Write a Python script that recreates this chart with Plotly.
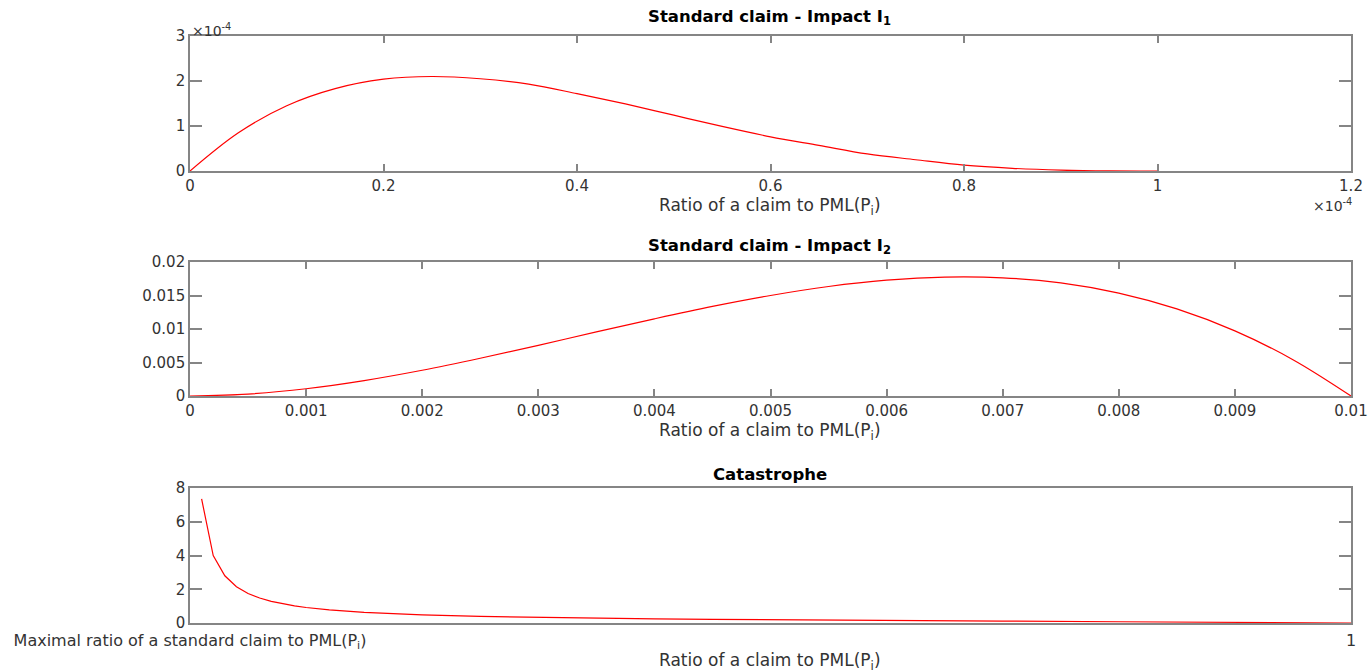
import plotly.graph_objects as go

# Panel 1: Standard claim - Impact I1 (values in absolute units)
x_i1 = [0.0, 0.05e-4, 0.10e-4, 0.15e-4, 0.20e-4, 0.25e-4, 0.30e-4, 0.35e-4, 0.40e-4, 0.45e-4,
        0.50e-4, 0.55e-4, 0.60e-4, 0.65e-4, 0.70e-4, 0.75e-4, 0.80e-4, 0.85e-4, 0.90e-4, 0.95e-4, 1.00e-4]
y_i1 = [0.0, 0.85e-4, 1.45e-4, 1.83e-4, 2.04e-4, 2.10e-4, 2.05e-4, 1.93e-4, 1.72e-4, 1.49e-4,
        1.24e-4, 0.99e-4, 0.76e-4, 0.57e-4, 0.38e-4, 0.25e-4, 0.13e-4, 0.06e-4, 0.02e-4, 0.002e-4, 0.0]

# Panel 2: Standard claim - Impact I2
x_i2 = [0.0, 0.0005, 0.001, 0.0015, 0.002, 0.0025, 0.003, 0.0035, 0.004, 0.0045, 0.005,
        0.0055, 0.006, 0.0065, 0.007, 0.0075, 0.008, 0.0085, 0.009, 0.0095, 0.01]
y_i2 = [0.0, 0.000285, 0.00108, 0.0023, 0.00384, 0.00563, 0.00756, 0.00956, 0.01152, 0.01337, 0.015,
        0.01634, 0.01728, 0.01775, 0.01764, 0.01688, 0.01536, 0.013, 0.00972, 0.00542, 0.0]

# Panel 3: Catastrophe
x_cat = [0.01, 0.02, 0.03, 0.04, 0.05, 0.06, 0.07, 0.08, 0.09, 0.10, 0.12, 0.15, 0.20, 0.25,
         0.30, 0.35, 0.40, 0.45, 0.50, 0.60, 0.70, 0.80, 0.90, 1.00]
y_cat = [7.35, 4.0, 2.8, 2.15, 1.75, 1.48, 1.28, 1.13, 1.01, 0.92, 0.78, 0.63, 0.48, 0.39,
         0.33, 0.28, 0.25, 0.22, 0.19, 0.15, 0.11, 0.075, 0.04, 0.0]

# Tick labels
i1_xticks = [0, 0.2e-4, 0.4e-4, 0.6e-4, 0.8e-4, 1.0e-4, 1.2e-4]
i1_xtext = ["0", "0.2", "0.4", "0.6", "0.8", "1", "1.2"]
i1_yticks = [0, 1e-4, 2e-4, 3e-4]
i1_ytext = ["0", "1", "2", "3"]
i2_xticks = [0, 0.001, 0.002, 0.003, 0.004, 0.005, 0.006, 0.007, 0.008, 0.009, 0.01]
i2_xtext = ["0", "0.001", "0.002", "0.003", "0.004", "0.005", "0.006", "0.007", "0.008", "0.009", "0.01"]
i2_yticks = [0, 0.005, 0.01, 0.015, 0.02]
i2_ytext = ["0", "0.005", "0.01", "0.015", "0.02"]
cat_xticks = [0, 1]
cat_xtext = ["Maximal ratio of a standard claim to PML(P<sub>i</sub>)", "1"]
cat_yticks = [0, 2, 4, 6, 8]

titles = ["Standard claim - Impact I<sub>1</sub>", "Standard claim - Impact I<sub>2</sub>", "Catastrophe"]
xlabel = "Ratio of a claim to PML(P<sub>i</sub>)"

W, H = 1372, 672
FONT = "DejaVu Sans, Liberation Sans, Arial, sans-serif"
AX = "#858585"
TXT = "#333333"
FS = 15

fig = go.Figure()
fig.add_trace(go.Scatter(x=x_i1, y=y_i1, mode="lines", line=dict(color="#ff0000", width=1.2, shape="spline"),
                         xaxis="x", yaxis="y", showlegend=False))
fig.add_trace(go.Scatter(x=x_i2, y=y_i2, mode="lines", line=dict(color="#ff0000", width=1.2, shape="spline"),
                         xaxis="x2", yaxis="y2", showlegend=False))
fig.add_trace(go.Scatter(x=x_cat, y=y_cat, mode="lines", line=dict(color="#ff0000", width=1.2),
                         xaxis="x3", yaxis="y3", showlegend=False))

xdom = [190 / W, 1351 / W]
ydoms = [[1 - 171 / H, 1 - 36 / H], [1 - 396 / H, 1 - 262 / H], [1 - 623 / H, 1 - 488 / H]]


def xax(anchor, ticks, text, rng, fs=FS, standoff=None):
    d = dict(domain=xdom, anchor=anchor, range=rng, tickmode="array", tickvals=ticks, ticktext=text,
             showline=True, linecolor=AX, linewidth=1.6, mirror="allticks", ticks="inside",
             ticklen=7, tickcolor=AX, tickwidth=1.6, showgrid=False, zeroline=False, automargin=False,
             tickfont=dict(family=FONT, size=fs, color=TXT), fixedrange=True)
    if standoff is not None:
        d["ticklabelstandoff"] = standoff
    return d


def yax(anchor, dom, ticks, text, rng):
    return dict(domain=dom, anchor=anchor, range=rng, tickmode="array", tickvals=ticks, ticktext=text,
                showline=True, linecolor=AX, linewidth=1.6, mirror="allticks", ticks="inside",
                ticklen=12, tickcolor=AX, tickwidth=1.6, showgrid=False, zeroline=False, automargin=False,
                tickfont=dict(family=FONT, size=FS, color=TXT), fixedrange=True)


fig.update_layout(
    width=W, height=H, margin=dict(l=0, r=0, t=0, b=0),
    paper_bgcolor="white", plot_bgcolor="white",
    xaxis=xax("y", i1_xticks, i1_xtext, [0, 1.2e-4]),
    yaxis=yax("x", ydoms[0], i1_yticks, i1_ytext, [0, 3e-4]),
    xaxis2=xax("y2", i2_xticks, i2_xtext, [0, 0.01]),
    yaxis2=yax("x2", ydoms[1], i2_yticks, i2_ytext, [0, 0.02]),
    xaxis3=xax("y3", cat_xticks, cat_xtext, [0, 1], fs=16, standoff=2),
    yaxis3=yax("x3", ydoms[2], cat_yticks, [str(v) for v in cat_yticks], [0, 8]),
)

ann = []
title_y = [17, 246, 474]
label_y = [206, 431, 661]
for ty, ly, t in zip(title_y, label_y, titles):
    ann.append(dict(text="<b>" + t + "</b>", x=770 / W, y=1 - ty / H, xref="paper", yref="paper",
                    xanchor="center", yanchor="middle", showarrow=False,
                    font=dict(family=FONT, size=16.5, color="#000000")))
    ann.append(dict(text=xlabel, x=770 / W, y=1 - ly / H, xref="paper", yref="paper",
                    xanchor="center", yanchor="middle", showarrow=False,
                    font=dict(family=FONT, size=17, color=TXT)))
ann.append(dict(text="×10<sup>-4</sup>", x=190 / W, y=1 - 30 / H, xref="paper", yref="paper",
                xanchor="left", yanchor="middle", showarrow=False,
                font=dict(family=FONT, size=14, color=TXT)))
ann.append(dict(text="×10<sup>-4</sup>", x=1354 / W, y=1 - 205 / H, xref="paper", yref="paper",
                xanchor="right", yanchor="middle", showarrow=False,
                font=dict(family=FONT, size=14, color=TXT)))
fig.update_layout(annotations=ann)

fig.write_html("out.html")
